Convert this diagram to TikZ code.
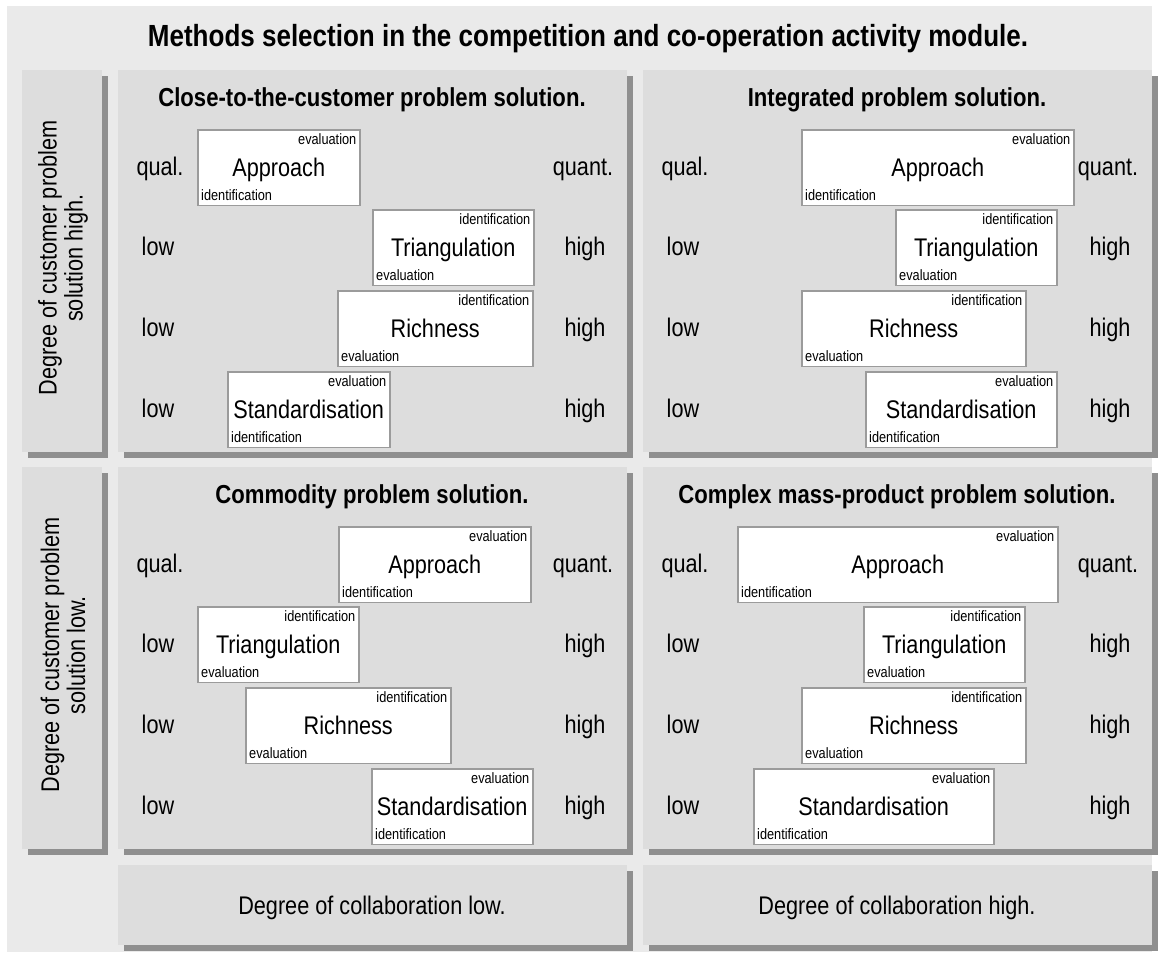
\documentclass[tikz,border=0pt]{standalone}
\usepackage{fontspec}
\setmainfont{Liberation Sans}[FakeStretch=0.85]
\usetikzlibrary{shadows}

\definecolor{outerbg}{RGB}{234,234,234}
\definecolor{panelbg}{RGB}{221,221,221}
\definecolor{shadowc}{RGB}{143,143,143}
\definecolor{boxline}{RGB}{155,155,155}

% panel: name, left, top, right, bottom
\newcommand\panelat[5]{%
  \node[panelbox, anchor=north west,
        minimum width={(#4-#2)*1pt}, minimum height={(#5-#3)*1pt}] (#1) at (#2,#3) {};}

% method box: name, left, right, top, method, upper-right tag, lower-left tag
\newcommand\methodnode[7]{%
  \node[methodbox, anchor=north west, minimum width={(#3-#2)*1pt}] (#1) at (#2,#4) {#5};
  \node[smalltag, anchor=base east] (#1-up) at ([xshift=-4pt,yshift=-15pt]#1.north east) {#6};
  \node[smalltag, anchor=base west] (#1-lo) at ([xshift=4pt,yshift=5.5pt]#1.south west) {#7};}

% scale labels of one row: name, left x, right x, row centre y, left text, right text
\newcommand\rowlabels[6]{%
  \node[axislabel] (#1-l) at (#2,#4) {#5};
  \node[axislabel] (#1-r) at (#3,#4) {#6};}

\begin{document}
\begin{tikzpicture}[x=1pt, y=-1pt,
  panelbox/.style={fill=panelbg, inner sep=0pt,
    general shadow={fill=shadowc, shadow xshift=6pt, shadow yshift=-6pt}},
  methodbox/.style={draw=boxline, line width=1.5pt, fill=white, inner sep=0pt,
    text height=18pt, text depth=0pt, minimum height=75.5pt,
    font=\fontsize{25.5}{28}\selectfont},
  smalltag/.style={inner sep=0pt, font=\fontsize{15}{17}\selectfont},
  axislabel/.style={inner sep=0pt, text height=18pt, text depth=0pt,
    font=\fontsize{25.5}{28}\selectfont},
  paneltitle/.style={inner sep=0pt, anchor=base, font=\bfseries\fontsize{26}{28}\selectfont},
  sidelabel/.style={inner sep=0pt, rotate=90, align=center,
    font=\fontsize{25.5}{26}\selectfont},
  footlabel/.style={inner sep=0pt, anchor=base, font=\fontsize{25.5}{28}\selectfont}]

\useasboundingbox (0,0) rectangle (1159,953);
\fill[outerbg] (7,6) rectangle (1152,952);

\node[inner sep=0pt, anchor=base, font=\bfseries\fontsize{30.6}{33}\selectfont] (title) at (588,46)
  {Methods selection in the competition and co-operation activity module.};

% panels
\panelat{sideH}{22}{70}{102}{452}
\panelat{sideL}{22}{467}{102}{849}
\panelat{pTL}{118}{70}{627}{452}
\panelat{pTR}{643}{70}{1152}{452}
\panelat{pBL}{118}{467}{627}{849}
\panelat{pBR}{643}{467}{1152}{849}
\panelat{botL}{118}{865}{627}{945}
\panelat{botR}{643}{865}{1152}{945}

% side and foot labels
\node[sidelabel] (sideHtxt) at (63,258) {Degree of customer problem\\solution high.};
\node[sidelabel] (sideLtxt) at (63,655) {Degree of customer problem\\solution low.};
\node[footlabel] (botLtxt) at (372,914) {Degree of collaboration low.};
\node[footlabel] (botRtxt) at (897,914) {Degree of collaboration high.};

% panel titles
\node[paneltitle] (tTL) at (372,106) {Close-to-the-customer problem solution.};
\node[paneltitle] (tTR) at (897,106) {Integrated problem solution.};
\node[paneltitle] (tBL) at (372,503) {Commodity problem solution.};
\node[paneltitle] (tBR) at (897,503) {Complex mass-product problem solution.};

% scale labels
\rowlabels{tl0}{160}{583}{166.75}{qual.}{quant.}
\rowlabels{tl1}{158}{585}{246.75}{low}{high}
\rowlabels{tl2}{158}{585}{327.75}{low}{high}
\rowlabels{tl3}{158}{585}{408.75}{low}{high}
\rowlabels{tr0}{685}{1108}{166.75}{qual.}{quant.}
\rowlabels{tr1}{683}{1110}{246.75}{low}{high}
\rowlabels{tr2}{683}{1110}{327.75}{low}{high}
\rowlabels{tr3}{683}{1110}{408.75}{low}{high}
\rowlabels{bl0}{160}{583}{563.75}{qual.}{quant.}
\rowlabels{bl1}{158}{585}{643.75}{low}{high}
\rowlabels{bl2}{158}{585}{724.75}{low}{high}
\rowlabels{bl3}{158}{585}{805.75}{low}{high}
\rowlabels{br0}{685}{1108}{563.75}{qual.}{quant.}
\rowlabels{br1}{683}{1110}{643.75}{low}{high}
\rowlabels{br2}{683}{1110}{724.75}{low}{high}
\rowlabels{br3}{683}{1110}{805.75}{low}{high}

% close-to-the-customer
\methodnode{tlA}{197}{359}{129}{Approach}{evaluation}{identification}
\methodnode{tlT}{372}{533}{209}{Triangulation}{identification}{evaluation}
\methodnode{tlR}{337}{532}{290}{Richness}{identification}{evaluation}
\methodnode{tlS}{227}{389}{371}{Standardisation}{evaluation}{identification}
% integrated
\methodnode{trA}{801}{1073}{129}{Approach}{evaluation}{identification}
\methodnode{trT}{895}{1056}{209}{Triangulation}{identification}{evaluation}
\methodnode{trR}{801}{1025}{290}{Richness}{identification}{evaluation}
\methodnode{trS}{865}{1056}{371}{Standardisation}{evaluation}{identification}
% commodity
\methodnode{blA}{338}{530}{526}{Approach}{evaluation}{identification}
\methodnode{blT}{197}{358}{606}{Triangulation}{identification}{evaluation}
\methodnode{blR}{245}{450}{687}{Richness}{identification}{evaluation}
\methodnode{blS}{371}{532}{768}{Standardisation}{evaluation}{identification}
% complex mass-product
\methodnode{brA}{737}{1057}{526}{Approach}{evaluation}{identification}
\methodnode{brT}{863}{1024}{606}{Triangulation}{identification}{evaluation}
\methodnode{brR}{801}{1025}{687}{Richness}{identification}{evaluation}
\methodnode{brS}{753}{993}{768}{Standardisation}{evaluation}{identification}
\end{tikzpicture}
\end{document}
